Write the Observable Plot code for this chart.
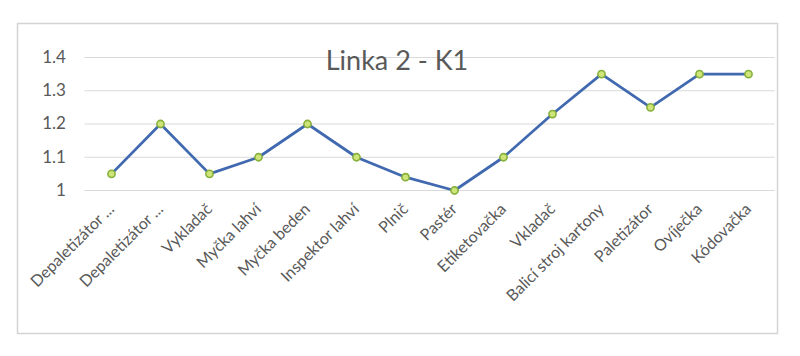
<!DOCTYPE html>
<html>
<head>
<meta charset="utf-8">
<script src="https://cdn.jsdelivr.net/npm/d3@7"></script>
<script src="https://cdn.jsdelivr.net/npm/@observablehq/plot@0.6"></script>
<style>
  html, body { margin: 0; padding: 0; background: #ffffff; }
</style>
</head>
<body>
<div id="chart"></div>
<script>
const title = "Linka 2 - K1";
const categories = [
  "Depaletizátor ...", "Depaletizátor ... ", "Vykladač", "Myčka lahví", "Myčka beden",
  "Inspektor lahví", "Plnič", "Pastér", "Etiketovačka", "Vkladač",
  "Balicí stroj kartony", "Paletizátor", "Ovíječka", "Kódovačka"
];
const values = [1.05, 1.2, 1.05, 1.1, 1.2, 1.1, 1.04, 1.0, 1.1, 1.23, 1.35, 1.25, 1.35, 1.35];
const yTicks = [1, 1.1, 1.2, 1.3, 1.4];
const yTickLabels = ["1", "1.1", "1.2", "1.3", "1.4"];

const data = categories.map((c, i) => ({category: c, value: values[i]}));

const chart = Plot.plot({
  width: 800,
  height: 356,
  marginTop: 57,
  marginBottom: 166,
  marginLeft: 84.4,
  marginRight: 25.4,
  style: {fontFamily: "Lato, 'Open Sans', sans-serif", color: "#595959", background: "#ffffff", overflow: "visible"},
  x: {type: "point", domain: categories, padding: 0.5},
  y: {domain: [1, 1.4]},
  marks: [
    Plot.gridY(yTicks, {stroke: "#d9d9d9", strokeOpacity: 1, strokeWidth: 1}),
    Plot.axisY(yTicks, {tickSize: 0, tickPadding: 19, fontSize: 17, fill: "#595959",
      tickFormat: (d, i) => yTickLabels[yTicks.indexOf(d)], label: null}),
    Plot.axisX({tickSize: 0, tickRotate: -45, tickPadding: 16, fontSize: 16, fill: "#595959", label: null,
      tickFormat: d => d.trim()}),
    Plot.line(data, {x: "category", y: "value", stroke: "#4169b0", strokeWidth: 2.75}),
    Plot.dot(data, {x: "category", y: "value", r: 3.6, fill: "#cfe57a", stroke: "#86b03c", strokeWidth: 1.6}),
    Plot.text([title], {frameAnchor: "top", dx: -33, dy: 4, fontSize: 27, fill: "#595959", lineAnchor: "middle"})
  ]
});

d3.select(chart).insert("rect", ":first-child")
  .attr("x", 17.5).attr("y", 23.5).attr("width", 760).attr("height", 310)
  .attr("fill", "#ffffff").attr("stroke", "#d4d4d4").attr("stroke-width", 1.5);

document.getElementById("chart").appendChild(chart);
</script>
</body>
</html>
